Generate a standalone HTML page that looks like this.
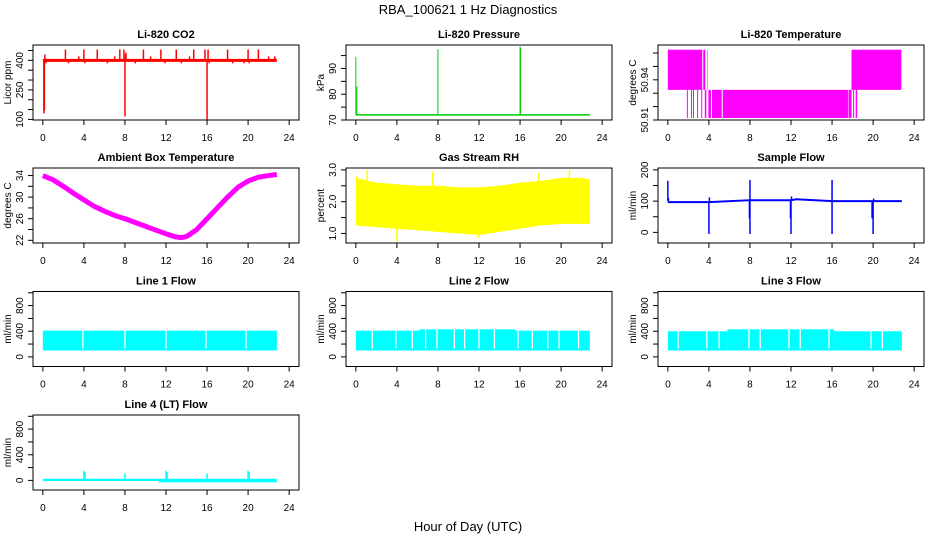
<!DOCTYPE html>
<html><head><meta charset="utf-8">
<style>
html,body{margin:0;padding:0;background:#fff;}
svg{display:block;font-family:"Liberation Sans",Helvetica,sans-serif;}
</style></head>
<body>
<svg id="c" width="936" height="540" viewBox="0 0 936 540" xmlns="http://www.w3.org/2000/svg">
<text x="468" y="14" text-anchor="middle" font-size="13">RBA_100621  1 Hz Diagnostics</text>
<text x="468" y="531" text-anchor="middle" font-size="13">Hour of Day (UTC)</text>
</svg>
<script>
// ---- data ----
const xTicks = [0,4,8,12,16,20,24];
const co2Spikes = [[0.1,130],[0.15,145],[0.2,430],[0.3,385],[2.2,455],[2.5,385],[3.5,420],[4.0,455],[4.1,385],[5.3,455],[6.3,385],[7.0,420],[7.5,455],[7.9,455],[8.0,115],[8.05,430],[8.1,440],[9.0,385],[9.8,455],[10.5,420],[11.5,455],[11.9,385],[13.0,455],[13.5,385],[14.3,420],[14.7,455],[15.8,455],[16.0,100],[16.1,455],[16.2,385],[18.0,455],[18.5,385],[19.6,385],[20.0,455],[20.1,385],[21.0,455],[22.0,420],[22.6,420]];
const co2Base = 400;
const presBase = 72;
const presSpikes = [[0.0,94.5],[0.1,83],[8.0,97.5],[16.0,98.5],[16.05,98]];
const tempUpperSpans = [[0,3.35],[3.45,3.65],[3.85,3.9],[17.9,22.75]];
const tempLowerSpans = [[3.6,3.75],[3.95,4.2],[4.3,5.25],[5.35,17.55],[17.6,17.9],[18.05,18.15],[18.3,18.45]];
const tempLowerTicks = [1.9,2.3,2.5,2.9,3.3];
const ambHours = [0,1,2,3,4,5,6,7,8,9,10,11,12,13,13.5,14,15,16,17,18,19,20,21,22,22.8];
const ambVals = [34,33.2,32,30.7,29.5,28.3,27.4,26.6,26,25.3,24.6,23.9,23.2,22.6,22.5,22.7,24,26,28,30,31.8,33,33.7,34,34.2];
const rhHours = [0,2,4,6,8,10,12,14,16,18,20,22,22.8];
const rhUpper = [2.75,2.6,2.55,2.5,2.5,2.45,2.45,2.5,2.6,2.65,2.75,2.75,2.7];
const rhLower = [1.25,1.2,1.15,1.1,1.05,1.0,0.95,1.05,1.15,1.25,1.3,1.3,1.3];
const rhSpikes = [[1.1,3.0],[4.0,0.75],[7.5,2.95],[12.0,0.85],[17.8,2.9],[20.8,3.0],[0.1,2.8]];
const sfHours = [0,4,8,12,12.5,16,20,22.8];
const sfVals = [97,97,103,103,106,100,100,100];
const sfSpikes = [[0.0,165],[0.05,110],[4.0,-5],[4.05,112],[8.0,-5],[8.0,168],[7.95,45],[12.0,-5],[11.95,45],[12.05,115],[16.0,-5],[16.0,168],[20.0,-5],[19.9,45],[20.05,108]];
const l1Top = [[0,3.9,410],[3.9,22.8,410]];
const l1Low = 100;
const l1Gaps = [3.9,8.0,12.0,15.9,19.8];
const l2Top = [[0,6.2,410],[6.2,15.5,430],[15.5,22.8,410]];
const l2Low = 100;
const l2Gaps = [1.6,3.9,5.5,6.8,7.9,9.6,10.6,12.0,13.5,15.8,17.2,18.7,19.8,21.7];
const l3Top = [[0,5.8,400],[5.8,16.2,430],[16.2,22.8,400]];
const l3Low = 100;
const l3Gaps = [1.0,3.8,5.0,7.9,9.0,11.8,12.9,15.7,19.8,20.9];
const l4Base = 10;
const l4Spikes = [[4.0,150],[4.1,130],[8.0,110],[12.0,150],[12.1,130],[16.0,110],[20.0,150],[20.1,130]];

// ---- layout ----
const NS='http://www.w3.org/2000/svg';
const svg=document.getElementById('c');
const colL=[33,346,658], W=266, rowT=[45,168,291.5,415], H=75;
function el(tag,attrs,parent){const e=document.createElementNS(NS,tag);for(const k in attrs)e.setAttribute(k,attrs[k]);(parent||svg).appendChild(e);return e;}

function panel(col,row,title,ylab,ymin,ymax,ticks,labels,name){
  const L=colL[col],T=rowT[row],B=T+H;
  const g=el('g',{});
  
  
  const sx=h=>L+(h+0.96)/25.92*W;
  const sy=v=>B-(v-ymin)/(ymax-ymin)*H;
  const t=el('text',{x:L+W/2,y:T-7,'text-anchor':'middle','font-size':11,'font-weight':'bold'},g);t.textContent=title;
  
  const cid='clip'+col+row;
  const cp=el('clipPath',{id:cid},g);el('rect',{x:L,y:T,width:W,height:H},cp);
  const pg=el('g',{'clip-path':'url(#'+cid+')'},g);
  
  const box=el('rect',{x:L,y:T,width:W,height:H,fill:'none',stroke:'#000','stroke-width':1},g);
  
  const xa=el('g',{},g);
  xTicks.forEach(h=>{el('line',{x1:sx(h),x2:sx(h),y1:B,y2:B+5,stroke:'#000'},xa);
    const tx=el('text',{x:sx(h),y:B+21,'text-anchor':'middle','font-size':10},xa);tx.textContent=h;});
  const ya=el('g',{},g);
  ticks.forEach((v,i)=>{el('line',{x1:L,x2:L-5,y1:sy(v),y2:sy(v),stroke:'#000'},ya);
    if(labels[i]!==''){const tx=el('text',{x:L-10,y:sy(v),'text-anchor':'middle','font-size':10,transform:'rotate(-90 '+(L-10)+' '+sy(v)+')'},ya);tx.textContent=labels[i];}});
  const yl=el('text',{x:L-22,y:T+H/2,'text-anchor':'middle','font-size':10,transform:'rotate(-90 '+(L-22)+' '+(T+H/2)+')'},g);yl.textContent=ylab;
  
  return {sx,sy,pg};
}
function vline(p,h,v1,v2,color,w){el('line',{x1:p.sx(h),x2:p.sx(h),y1:p.sy(v1),y2:p.sy(v2),stroke:color,'stroke-width':w||1},p.pg);}

let p=panel(0,0,'Li-820 CO2','Licor ppm',97,478,[100,150,200,250,300,350,400,450],['100','','','250','','','400',''],'co2');
el('line',{x1:p.sx(0),x2:p.sx(22.8),y1:p.sy(co2Base),y2:p.sy(co2Base),stroke:'#f00','stroke-width':3},p.pg);
co2Spikes.forEach(s=>vline(p,s[0],co2Base,s[1],'#f00',1.5));
p=panel(1,0,'Li-820 Pressure','kPa',70,99.1,[70,75,80,85,90,95],['70','','80','','90',''],'pressure');
el('line',{x1:p.sx(0),x2:p.sx(22.8),y1:p.sy(presBase),y2:p.sy(presBase),stroke:'#0c0','stroke-width':1.5},p.pg);
presSpikes.forEach(s=>vline(p,s[0],presBase,s[1],'#0c0',1));
p=panel(2,0,'Li-820 Temperature','degrees C',50.91,50.966,[50.91,50.92,50.93,50.94,50.95,50.96],['50.91','','','50.94','',''],'temperature');
tempUpperSpans.forEach(s=>el('rect',{x:p.sx(s[0]),y:p.sy(50.9625),width:p.sx(s[1])-p.sx(s[0]),height:p.sy(50.9325)-p.sy(50.9625),fill:'#f0f'},p.pg));
tempLowerSpans.forEach(s=>el('rect',{x:p.sx(s[0]),y:p.sy(50.9325),width:p.sx(s[1])-p.sx(s[0]),height:p.sy(50.9115)-p.sy(50.9325),fill:'#f0f'},p.pg));
tempLowerTicks.forEach(h=>vline(p,h,50.9325,50.9115,'#f0f',1));
p=panel(0,1,'Ambient Box Temperature','degrees C',21.5,35.4,[22,24,26,28,30,32,34],['22','','26','','30','','34'],'ambient-temp');
el('polyline',{points:ambHours.map((h,i)=>p.sx(h)+','+p.sy(ambVals[i])).join(' '),fill:'none',stroke:'#f0f','stroke-width':5,'stroke-linejoin':'round'},p.pg);
p=panel(1,1,'Gas Stream RH','percent',0.7,3.06,[1.0,1.5,2.0,2.5,3.0],['1.0','','2.0','','3.0'],'gas-rh');
const rhPts=rhHours.map((h,i)=>p.sx(h)+','+p.sy(rhUpper[i])).concat(rhHours.slice().reverse().map((h,i)=>p.sx(h)+','+p.sy(rhLower[rhHours.length-1-i])));
el('polygon',{points:rhPts.join(' '),fill:'#ff0'},p.pg);
rhSpikes.forEach(s=>vline(p,s[0],1.9,s[1],'#ff0',1.5));
p=panel(2,1,'Sample Flow','ml/min',-34,206,[0,50,100,150,200],['0','','100','','200'],'sample-flow');
el('polyline',{points:sfHours.map((h,i)=>p.sx(h)+','+p.sy(sfVals[i])).join(' '),fill:'none',stroke:'#00f','stroke-width':2},p.pg);
sfSpikes.forEach(s=>vline(p,s[0],100,s[1],'#00f',1.5));
function flow(col,row,title,name,tops,low,gaps){
  const q=panel(col,row,title,'ml/min',-150,1020,[0,200,400,600,800,1000],['0','','400','','800',''],name);
  tops.forEach(s=>el('rect',{x:q.sx(s[0]),y:q.sy(s[2]),width:q.sx(s[1])-q.sx(s[0]),height:q.sy(low)-q.sy(s[2]),fill:'#0ff'},q.pg));
  gaps.forEach(h=>vline(q,h,low+30,1000,'#fff',1.3));
  return q;
}
flow(0,2,'Line 1 Flow','line1-flow',l1Top,l1Low,l1Gaps);
flow(1,2,'Line 2 Flow','line2-flow',l2Top,l2Low,l2Gaps);
flow(2,2,'Line 3 Flow','line3-flow',l3Top,l3Low,l3Gaps);
p=panel(0,3,'Line 4 (LT) Flow','ml/min',-150,1020,[0,200,400,600,800,1000],['0','','400','','800',''],'line4-flow');
el('rect',{x:p.sx(0),y:p.sy(25),width:p.sx(22.8)-p.sx(0),height:p.sy(-10)-p.sy(25),fill:'#0ff'},p.pg);
el('rect',{x:p.sx(11.3),y:p.sy(0),width:p.sx(22.8)-p.sx(11.3),height:p.sy(-30)-p.sy(0),fill:'#0ff'},p.pg);
l4Spikes.forEach(s=>vline(p,s[0],l4Base,s[1],'#0ff',1.5));
</script>
</body></html>
